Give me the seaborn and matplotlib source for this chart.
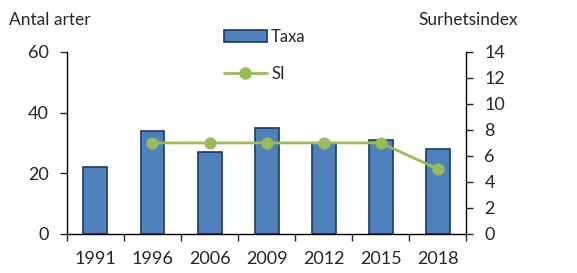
import numpy as np
import pandas as pd
import matplotlib as mpl
import matplotlib.pyplot as plt
import seaborn as sns
from matplotlib.lines import Line2D
from matplotlib.patches import Patch

# data
years = ['1991', '1996', '2006', '2009', '2012', '2015', '2018']
taxa = [22, 34, 27, 35, 30, 31, 28]
si_years = ['1996', '2006', '2009', '2012', '2015', '2018']
si = [7, 7, 7, 7, 7, 5]

bar_col = '#4F81BD'
edge_col = '#1F3864'
line_col = '#9BBB59'

sns.set_style('white')
plt.rcParams['font.family'] = ['Lato', 'DejaVu Sans']

fig = plt.figure(figsize=(5.77, 2.73), dpi=100)
ax = fig.add_axes([0.116, 0.143, 0.692, 0.667])

df = pd.DataFrame({'year': years, 'taxa': taxa})
sns.barplot(data=df, x='year', y='taxa', color=bar_col, edgecolor=edge_col,
            linewidth=1.2, width=0.42, saturation=1, ax=ax)

ax2 = ax.twinx()
si_df = pd.DataFrame({'pos': [years.index(y) for y in si_years], 'si': si})
sns.lineplot(data=si_df, x='pos', y='si', color=line_col, linewidth=2,
             marker='o', markersize=8, markeredgecolor=line_col, ax=ax2)

ax.set_xlim(-0.5, len(years) - 0.5)
ax2.set_xlim(-0.5, len(years) - 0.5)
ax.set_ylim(0, 60)
ax.set_yticks([0, 20, 40, 60])
ax2.set_ylim(0, 14)
ax2.set_yticks(range(0, 15, 2))

ax.set_xlabel('')
ax.set_ylabel('')
ax2.set_xlabel('')
ax2.set_ylabel('')

# ticks at category boundaries
ax.set_xticks(np.arange(len(years)))
ax.set_xticklabels(years)
ax.set_xticks(np.arange(len(years) + 1) - 0.5, minor=True)
ax.tick_params(axis='x', which='major', length=0, labelsize=13, pad=12)
ax.tick_params(axis='x', which='minor', length=5, width=1, direction='out', bottom=True)
ax.tick_params(axis='y', length=5, width=1, direction='out', left=True, labelsize=13, pad=8)
ax2.tick_params(axis='y', length=5, width=1, direction='out', right=True, labelsize=13, pad=8)

for a in (ax, ax2):
    a.spines['top'].set_visible(False)
    for s in ('left', 'right', 'bottom'):
        a.spines[s].set_color('black')
        a.spines[s].set_linewidth(1)
ax.spines['right'].set_visible(False)
ax2.spines['left'].set_visible(False)
ax2.spines['bottom'].set_visible(False)

fig.text(0.016, 0.925, 'Antal arter', fontsize=12.5, va='center', ha='left')
fig.text(0.811, 0.925, 'Surhetsindex', fontsize=12.5, va='center', ha='center')

handles = [Patch(facecolor=bar_col, edgecolor=edge_col, linewidth=1.2),
           Line2D([0], [0], color=line_col, linewidth=2, marker='o', markersize=8)]
fig.legend(handles, ['Taxa', 'SI'], loc='upper left', bbox_to_anchor=(0.373, 0.925),
           frameon=False, fontsize=12, handlelength=2.6, handleheight=0.8,
           labelspacing=1.3, handletextpad=0.25, borderpad=0)

fig.savefig('out.png', dpi=100)
